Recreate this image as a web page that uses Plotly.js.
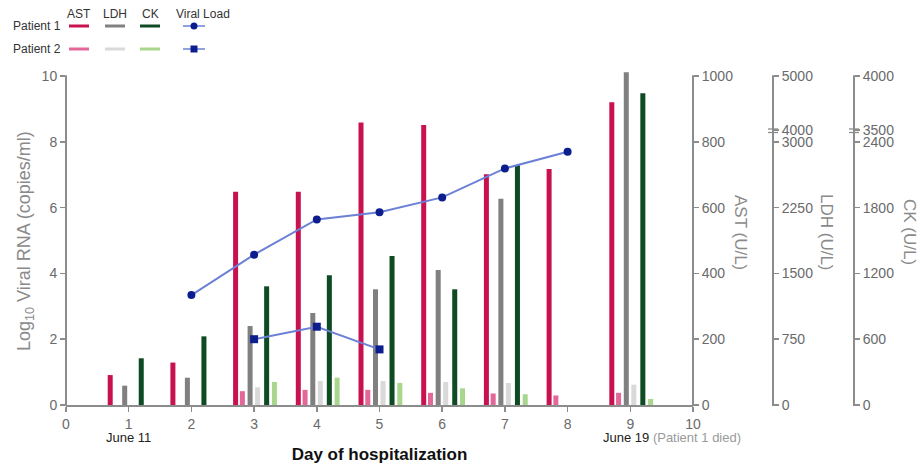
<!DOCTYPE html>
<html><head><meta charset="utf-8">
<script src="https://cdn.plot.ly/plotly-3.0.1.min.js"></script>
<style>html,body{margin:0;padding:0;background:#fff}#chart{width:921px;height:467px}</style>
</head><body><div id="chart"></div>
<script>
// ---- data ----
const days = [1, 2, 3, 4, 5, 6, 7, 8, 9];
const astP1 = [91, 129, 648, 648, 859, 851, 701, 717, 920];
const astP2 = [null, null, 42, 46, 46, 37, 35, 29, 37];
const ldhP1 = [220, 311, 900, 1049, 1319, 1539, 2351, null, 5070];
const ldhP2 = [null, null, 202, 274, 274, 262, 251, null, 232];
const ckP1 = [426, 626, 1082, 1183, 1359, 1055, 2188, null, 3840];
const ckP2 = [null, null, 210, 249, 201, 152, 98, null, 55];
const vlDaysP1 = [2, 3, 4, 5, 6, 7, 8];
const vlP1 = [3.34, 4.57, 5.64, 5.86, 6.31, 7.19, 7.70];
const vlDaysP2 = [3, 4, 5];
const vlP2 = [2.0, 2.38, 1.69];
const xTicks = [0, 1, 2, 3, 4, 5, 6, 7, 8, 9, 10];
const vlTicks = [0, 2, 4, 6, 8, 10];
const astTicks = [0, 200, 400, 600, 800, 1000];
const ldhTicks = [0, 750, 1500, 2250, 3000, 4000, 5000];
const ckTicks = [0, 600, 1200, 1800, 2400, 3500, 4000];

// ---- broken-axis scales (LDH, CK) mapped onto a 0..1000 axis ----
const BREAK_POS = 836;
function ldhScale(v) { if (v == null) return null; return v <= 3000 ? v / 3.75 : BREAK_POS + (v - 4000) * (1000 - BREAK_POS) / 1000; }
function ckScale(v) { if (v == null) return null; return v <= 2400 ? v / 3 : BREAK_POS + (v - 3500) * (1000 - BREAK_POS) / 500; }

// ---- geometry helpers ----
// plot area leaves a little headroom above the top ticks (y=76) so the tallest bar can overshoot
const W = 921, H = 467, ML = 66, MR = 16, MT = 70, MB = 62;
const TOP = 76, BOT = H - MB;
const PW = W - ML - MR, PH = H - MT - MB;
const HEAD = PH / (BOT - TOP);           // range multiplier for the headroom
const px = x => (x - ML) / PW;
const py = y => (BOT - y) / PH;

const SANS = 'Liberation Sans, Arial, sans-serif';
const AXC = '#8c8c8c';
const TXC = '#6a6a6a';

const C = {ast1: '#C8124F', ast2: '#E4679A', ldh1: '#808080', ldh2: '#D9D9D9', ck1: '#0E4A22', ck2: '#A8D68C', line: '#6C80D6', mk: '#0C1E8E'};

const BW = 0.08;
function bar(y, axis, color, center) {
  return {type: 'bar', x: days, y: y, yaxis: axis, width: BW, offset: center - BW / 2,
    marker: {color: color, line: {width: 0}}, showlegend: false, hoverinfo: 'skip'};
}

const traces = [
  bar(ldhP1.map(ldhScale), 'y', C.ldh1, -0.064),
  bar(ldhP2.map(ldhScale), 'y', C.ldh2, 0.056),
  bar(astP1, 'y2', C.ast1, -0.295),
  bar(astP2, 'y2', C.ast2, -0.187),
  bar(ckP1.map(ckScale), 'y3', C.ck1, 0.200),
  bar(ckP2.map(ckScale), 'y3', C.ck2, 0.324),
  {type: 'scatter', mode: 'lines+markers', x: vlDaysP1, y: vlP1, yaxis: 'y4',
    line: {color: C.line, width: 2}, marker: {symbol: 'circle', size: 8, color: C.mk}, showlegend: false, hoverinfo: 'skip'},
  {type: 'scatter', mode: 'lines+markers', x: vlDaysP2, y: vlP2, yaxis: 'y4',
    line: {color: C.line, width: 2}, marker: {symbol: 'square', size: 8, color: C.mk}, showlegend: false, hoverinfo: 'skip'}
];

const baseY = {showgrid: false, zeroline: false, showline: false,
  ticks: 'outside', ticklen: 5, tickwidth: 1.5, tickcolor: AXC, tickfont: {family: SANS, size: 14, color: TXC}};

const shapes = [];
const annotations = [];
// vertical axis lines, ending at the top tick
[66, 693, 773, 854].forEach(x => shapes.push({type: 'line', xref: 'paper', yref: 'paper', x0: px(x), x1: px(x), y0: py(BOT + 1), y1: py(TOP - 0.75), line: {color: AXC, width: 2}, layer: 'above'}));
// axis break marks
[773, 854].forEach(x => {
  [129, 132.5].forEach(y => shapes.push({type: 'line', xref: 'paper', yref: 'paper', x0: px(x - 5), x1: px(x + 5), y0: py(y), y1: py(y), line: {color: AXC, width: 1.3}}));
});
// rotated right-axis titles
[['AST (U/L)', 741], ['LDH (U/L)', 827], ['CK (U/L)', 910]].forEach(([t, x]) => annotations.push({
  text: t, xref: 'paper', yref: 'paper', x: px(x), y: py(232), textangle: 90, showarrow: false,
  xanchor: 'center', yanchor: 'middle', font: {family: SANS, size: 17, color: '#8a8a8a'}}));
// date notes
annotations.push({text: 'June 11', xref: 'x', yref: 'paper', x: 1, y: py(437), showarrow: false, xanchor: 'center', yanchor: 'middle', font: {family: SANS, size: 13, color: '#222'}});
annotations.push({text: 'June 19 <span style="color:#9a9a9a">(Patient 1 died)</span>', xref: 'x', yref: 'paper', x: 9, xshift: -29, y: py(437), showarrow: false, xanchor: 'left', yanchor: 'middle', font: {family: SANS, size: 13, color: '#222'}});
// custom legend
const legC = [['AST', 79, C.ast1, C.ast2], ['LDH', 115, C.ldh1, C.ldh2], ['CK', 150, C.ck1, C.ck2]];
legC.forEach(([t, cx, c1, c2]) => {
  annotations.push({text: t, xref: 'paper', yref: 'paper', x: px(cx), y: py(14), showarrow: false, xanchor: 'center', yanchor: 'middle', font: {family: SANS, size: 12, color: '#333'}});
  shapes.push({type: 'line', xref: 'paper', yref: 'paper', x0: px(cx - 10), x1: px(cx + 10), y0: py(26), y1: py(26), line: {color: c1, width: 3}});
  shapes.push({type: 'line', xref: 'paper', yref: 'paper', x0: px(cx - 10), x1: px(cx + 10), y0: py(49), y1: py(49), line: {color: c2, width: 3}});
});
annotations.push({text: 'Viral Load', xref: 'paper', yref: 'paper', x: px(203), y: py(14), showarrow: false, xanchor: 'center', yanchor: 'middle', font: {family: SANS, size: 12, color: '#333'}});
[26, 49].forEach((y, i) => {
  shapes.push({type: 'line', xref: 'paper', yref: 'paper', x0: px(183), x1: px(205), y0: py(y), y1: py(y), line: {color: C.line, width: 1.5}});
  shapes.push({type: i === 0 ? 'circle' : 'rect', xref: 'paper', yref: 'paper', x0: px(190.5), x1: px(197.5), y0: py(y + 3.5), y1: py(y - 3.5), fillcolor: C.mk, line: {width: 0}});
  annotations.push({text: 'Patient ' + (i + 1), xref: 'paper', yref: 'paper', x: px(11), y: py(y), showarrow: false, xanchor: 'left', yanchor: 'middle', font: {family: SANS, size: 12, color: '#333'}});
});
// left axis title
annotations.push({text: 'Log<sub>10</sub> Viral RNA (copies/ml)', xref: 'paper', yref: 'paper', x: px(25), y: py(241), textangle: -90, showarrow: false,
  xanchor: 'center', yanchor: 'middle', font: {family: SANS, size: 18, color: '#8a8a8a'}});

const layout = {
  width: W, height: H, margin: {l: ML, r: MR, t: MT, b: MB}, paper_bgcolor: '#fff', plot_bgcolor: 'rgba(0,0,0,0)',
  barmode: 'overlay', hovermode: false, showlegend: false,
  xaxis: {domain: [0, px(693)], range: [0, 10], tickvals: xTicks, showgrid: false, zeroline: false, showline: true,
    linecolor: AXC, linewidth: 2, ticks: 'outside', ticklen: 5, tickwidth: 1.5, tickcolor: AXC,
    tickfont: {family: SANS, size: 14, color: TXC},
    title: {text: '<b>Day of hospitalization</b>', font: {family: SANS, size: 17, color: '#111'}, standoff: 17}},
  yaxis: Object.assign({}, baseY, {anchor: 'free', position: px(773), side: 'right', range: [0, 1000 * HEAD],
    tickvals: ldhTicks.map(ldhScale), ticktext: ldhTicks.map(String)}),
  yaxis2: Object.assign({}, baseY, {overlaying: 'y', anchor: 'x', side: 'right', range: [0, 1000 * HEAD], tickvals: astTicks}),
  yaxis3: Object.assign({}, baseY, {overlaying: 'y', anchor: 'free', position: px(854), side: 'right', range: [0, 1000 * HEAD],
    tickvals: ckTicks.map(ckScale), ticktext: ckTicks.map(String)}),
  yaxis4: Object.assign({}, baseY, {overlaying: 'y', anchor: 'x', side: 'left', range: [0, 10 * HEAD], tickvals: vlTicks}),
  shapes: shapes, annotations: annotations
};

Plotly.newPlot('chart', traces, layout, {staticPlot: true, displayModeBar: false});
</script></body></html>
